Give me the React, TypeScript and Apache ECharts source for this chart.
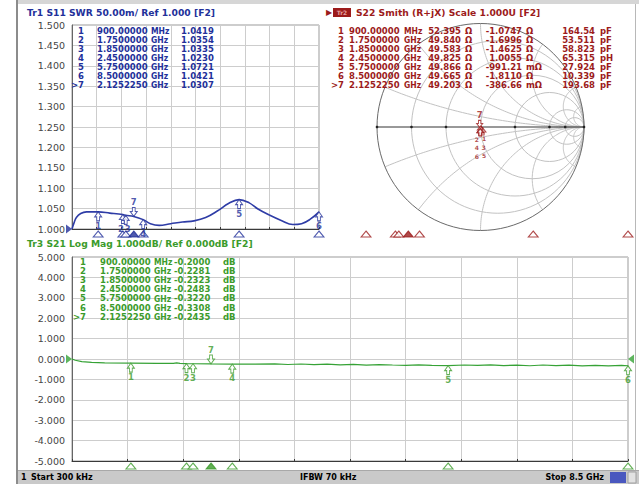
import React, { useEffect, useRef } from 'react';
import * as echarts from 'echarts';

// ---------- data ----------
const freqMin = 0;
const freqMax = 8.5;
const freqStep = 0.85;

const markerIds = ['1', '2', '3', '4', '5', '6', '>7'];
const markerNums = ['1', '2', '3', '4', '5', '6', '7'];
const markerFreqGHz = [0.9, 1.75, 1.85, 2.45, 5.75, 8.5, 2.125225];
const markerFreqText = ['900.00000', '1.7500000', '1.8500000', '2.4500000', '5.7500000', '8.5000000', '2.1252250'];
const markerFreqUnit = ['MHz', 'GHz', 'GHz', 'GHz', 'GHz', 'GHz', 'GHz'];

const s11MarkerSwr = [1.0419, 1.0354, 1.0335, 1.023, 1.0721, 1.0421, 1.0307];
const s11MarkerText = ['1.0419', '1.0354', '1.0335', '1.0230', '1.0721', '1.0421', '1.0307'];

const s21MarkerDb = [-0.2, -0.2281, -0.2323, -0.2483, -0.322, -0.3308, -0.2435];
const s21MarkerText = ['-0.2000', '-0.2281', '-0.2323', '-0.2483', '-0.3220', '-0.3308', '-0.2435'];

const s22MarkerR = [52.395, 49.84, 49.583, 49.825, 49.866, 49.665, 49.203];
const s22MarkerX = [-1.0747, -1.6996, -1.4625, 1.0055, -0.99121, -1.811, -0.38666];
const s22RText = ['52.395', '49.840', '49.583', '49.825', '49.866', '49.665', '49.203'];
const s22XText = ['-1.0747', '-1.6996', '-1.4625', '1.0055', '-991.21', '-1.8110', '-386.66'];
const s22XUnit = ['Ω', 'Ω', 'Ω', 'Ω', 'mΩ', 'Ω', 'mΩ'];
const s22LCText = ['164.54', '53.511', '58.823', '65.315', '27.924', '10.339', '193.68'];
const s22LCUnit = ['pF', 'pF', 'pF', 'pH', 'pF', 'pF', 'pF'];

const s11TraceFreq = [0.0003, 0.07, 0.15, 0.3, 0.5, 0.9, 1.3, 1.75, 1.85, 2.125, 2.45, 2.7, 3.0, 3.4, 3.8, 4.2, 4.6, 5.0, 5.4, 5.75, 6.1, 6.4, 6.8, 7.2, 7.6, 7.9, 8.2, 8.5];
const s11TraceSwr = [1.0, 1.015, 1.028, 1.038, 1.042, 1.0419, 1.039, 1.0354, 1.0335, 1.0307, 1.023, 1.013, 1.009, 1.013, 1.017, 1.02, 1.028, 1.044, 1.063, 1.0721, 1.064, 1.049, 1.034, 1.021, 1.011, 1.013, 1.024, 1.0421];

const s21TraceFreq = [0.0003, 0.05, 0.15, 0.3, 0.5, 0.9, 1.3, 1.55, 1.6, 1.65, 1.75, 1.85, 2.125, 2.45, 2.8, 3.1, 3.3, 3.5, 3.7, 3.9, 4.1, 4.3, 4.5, 4.7, 4.9, 5.1, 5.3, 5.5, 5.75, 6.0, 6.2, 6.4, 6.6, 6.8, 7.0, 7.2, 7.4, 7.6, 7.8, 8.0, 8.2, 8.4, 8.5];
const s21TraceDb = [0.0, -0.06, -0.13, -0.17, -0.19, -0.2, -0.21, -0.215, -0.19, -0.215, -0.2281, -0.2323, -0.2435, -0.2483, -0.25, -0.235, -0.27, -0.245, -0.28, -0.255, -0.29, -0.265, -0.3, -0.275, -0.295, -0.31, -0.285, -0.31, -0.322, -0.295, -0.315, -0.285, -0.32, -0.3, -0.33, -0.295, -0.325, -0.3, -0.335, -0.31, -0.34, -0.315, -0.3308];

const s22TraceRe = [0.0, 0.012, 0.023, 0.015, 0.004, -0.002, -0.003, -0.004, -0.003, -0.002, 0.001, -0.001, -0.003, -0.004];
const s22TraceIm = [0.0, -0.006, -0.01, -0.014, -0.016, -0.017, -0.015, -0.008, 0.004, 0.01, -0.004, -0.01, -0.018, -0.012];

const swrMin = 1.0;
const swrMax = 1.5;
const swrStep = 0.05;
const dbMin = -5;
const dbMax = 5;
const dbStep = 1;
const swrRef = 1.0;
const dbRef = 0.0;

const smithR = [0.2, 0.5, 1, 2, 5, 10];
const smithX = [0.2, 0.5, 1, 2, 5, 10];

const titleS11 = 'Tr1 S11 SWR 50.00m/ Ref 1.000 [F2]';
const titleS22 = 'S22 Smith (R+jX) Scale 1.000U [F2]';
const titleS21 = 'Tr3 S21 Log Mag 1.000dB/ Ref 0.000dB [F2]';
const statusStart = 'Start 300 kHz';
const statusIfbw = 'IFBW 70 kHz';
const statusStop = 'Stop 8.5 GHz';

// ---------- styles ----------
const FONT = '"DejaVu Sans", Verdana, sans-serif';
const BLUE = '#22309a';
const BLUE_TRACE = '#2e3ca6';
const RED = '#9c1b1b';
const GREEN_TEXT = '#3b9b2b';
const GREEN_TRACE = '#36a236';
const GRID = '#cdcdcd';
const AXIS = '#3a3a3a';

const UP_ARROW = 'path://M4,0 L8,5 L5.6,5 L5.6,9 L2.4,9 L2.4,5 L0,5 Z';
const DOWN_ARROW = 'path://M2.4,0 L5.6,0 L5.6,4 L8,4 L4,9 L0,4 L2.4,4 Z';
const RIGHT_TRI = 'path://M0,0 L8,5 L0,10 Z';
const LEFT_TRI = 'path://M8,0 L0,5 L8,10 Z';

// label stacking offsets for the crowded Smith-chart markers (style only)
const SMITH_LABEL_OFFSETS: number[][] = [[1.2, 0], [-3.4, 0], [3.6, 8.5], [-3.4, 11], [3.6, 17], [-3.4, 17], [0, 0]];

function gammaOf(R: number, X: number): [number, number] {
  const r = R / 50;
  const x = X / 50;
  const den = (r + 1) * (r + 1) + x * x;
  return [(r * r + x * x - 1) / den, (2 * x) / den];
}

function txt(x: number, y: number, text: string, fill: string, font: string, align = 'left', scaleX = 1) {
  return {
    type: 'text',
    x,
    y,
    scaleX,
    silent: true,
    z: 50,
    style: {
      text,
      fill,
      font,
      textAlign: align,
      align,
      textVerticalAlign: 'middle',
      verticalAlign: 'middle',
    },
  };
}

function markerSeries(
  name: string,
  xIdx: number,
  yIdx: number,
  pts: [number, number][],
  color: string,
  labelShiftX: number[] = [],
  stacked = false,
) {
  const data = pts.map((p, i) => {
    const active = i === 6;
    const label: any = {
      show: true,
      position: active ? 'top' : 'bottom',
      distance: 0,
      formatter: markerNums[i],
      color,
      fontFamily: FONT,
      fontWeight: 'bold',
      fontSize: 8.5,
      offset: [labelShiftX[i] || 0, 0],
    };
    if (stacked && !active) {
      label.fontSize = 6;
      label.offset = SMITH_LABEL_OFFSETS[i];
    }
    return {
      value: p,
      symbol: active ? DOWN_ARROW : UP_ARROW,
      symbolSize: stacked ? [6, 7] : [7, 9],
      symbolOffset: active ? [0, stacked ? -3.5 : -4.5] : [0, stacked ? 3.5 : 4.5],
      label,
    };
  });
  return {
    name,
    type: 'scatter',
    xAxisIndex: xIdx,
    yAxisIndex: yIdx,
    clip: false,
    itemStyle: { color: '#ffffff', borderColor: color, borderWidth: 1 },
    silent: true,
    z: 20,
    data,
  };
}

function stripSeries(name: string, xIdx: number, yIdx: number, yVal: number, color: string, offsetY: number) {
  return {
    name,
    type: 'scatter',
    xAxisIndex: xIdx,
    yAxisIndex: yIdx,
    clip: false,
    symbol: 'triangle',
    symbolSize: [10, 6],
    symbolOffset: [0, offsetY],
    silent: true,
    z: 20,
    data: markerFreqGHz.map((f, i) => ({
      value: [f, yVal],
      itemStyle: { color: i === 6 ? color : '#ffffff', borderColor: color, borderWidth: 1 },
    })),
  };
}

function smithRender(params: any, api: any) {
  const children: any[] = [];
  const c0 = api.coord([0, 0]);
  const unit = api.size([1, 1]);
  const ux = unit[0];
  const gridStyle = { stroke: '#c2c2c2', fill: 'none', lineWidth: 1 };
  smithR.forEach((r) => {
    const c = api.coord([r / (1 + r), 0]);
    children.push({ type: 'circle', shape: { cx: c[0], cy: c[1], r: ux / (1 + r) }, style: gridStyle });
  });
  const xs = smithX.concat(smithX.map((v) => -v));
  xs.forEach((x) => {
    const cx = 1;
    const cy = 1 / x;
    const rad = 1 / Math.abs(x);
    const aA = Math.atan2(0 - cy, 1 - cx);
    const px = (x * x - 1) / (1 + x * x);
    const py = (2 * x) / (1 + x * x);
    const aP = Math.atan2(py - cy, px - cx);
    const twoPi = Math.PI * 2;
    let d = (((aP - aA) % twoPi) + twoPi) % twoPi;
    const mid = aA + d / 2;
    const mx = cx + rad * Math.cos(mid);
    const my = cy + rad * Math.sin(mid);
    if (mx * mx + my * my > 1) d = d - twoPi;
    const pts: number[][] = [];
    const n = 80;
    for (let k = 0; k <= n; k++) {
      const a = aA + (d * k) / n;
      pts.push(api.coord([cx + rad * Math.cos(a), cy + rad * Math.sin(a)]));
    }
    children.push({ type: 'polyline', shape: { points: pts }, style: gridStyle });
  });
  children.push({ type: 'circle', shape: { cx: c0[0], cy: c0[1], r: ux }, style: { stroke: '#6a6a6a', fill: 'none', lineWidth: 1 } });
  const l = api.coord([-1, 0]);
  const rgt = api.coord([1, 0]);
  children.push({ type: 'line', shape: { x1: l[0], y1: l[1], x2: rgt[0], y2: rgt[1] }, style: { stroke: '#333', lineWidth: 1 } });
  [-1].concat(smithR.map((r) => (r - 1) / (r + 1))).concat([1]).forEach((g) => {
    const p = api.coord([g, 0]);
    children.push({ type: 'circle', shape: { cx: p[0], cy: p[1], r: 1.3 }, style: { fill: '#222' } });
  });
  return { type: 'group', children, silent: true };
}

export default function App() {
  const ref = useRef<HTMLDivElement>(null);

  useEffect(() => {
    if (!ref.current) return;
    const chart = echarts.init(ref.current, undefined, { renderer: 'svg' });

    const fontTitle = `bold 9.2px ${FONT}`;
    const fontTable = `bold 8.5px ${FONT}`;
    const fontStatus = `bold 8px ${FONT}`;
    const unitScale = 0.9;

    const rowY = (top: number, i: number) => top + i * 9.1;

    const graphics: any[] = [];
    graphics.push({ type: 'rect', shape: { x: 17, y: 0, width: 622, height: 4 }, style: { fill: '#d6d6d6' }, silent: true, z: 40 });
    graphics.push({ type: 'rect', shape: { x: 16, y: 0, width: 2, height: 484 }, style: { fill: '#8c8c8c' }, silent: true, z: 40 });
    graphics.push({ type: 'rect', shape: { x: 635, y: 4, width: 1, height: 466 }, style: { fill: '#b8b8b8' }, silent: true, z: 40 });
    graphics.push({ type: 'rect', shape: { x: 18, y: 470, width: 621, height: 14 }, style: { fill: '#c9c9c9' }, silent: true, z: 40 });
    graphics.push({ type: 'rect', shape: { x: 18, y: 470, width: 621, height: 1 }, style: { fill: '#a8a8a8' }, silent: true, z: 41 });
    graphics.push(txt(21, 477.5, '1', '#000', fontStatus));
    graphics.push(txt(31, 477.5, statusStart, '#000', fontStatus));
    graphics.push(txt(300, 477.5, statusIfbw, '#000', fontStatus));
    graphics.push(txt(604, 477.5, statusStop, '#000', fontStatus, 'right'));
    graphics.push({ type: 'rect', shape: { x: 610, y: 472, width: 16, height: 11 }, style: { fill: '#4a58bf' }, silent: true, z: 41 });
    graphics.push({ type: 'rect', shape: { x: 628, y: 472, width: 8, height: 11 }, style: { fill: '#e2e2e2', stroke: '#a0a0a0' }, silent: true, z: 41 });

    graphics.push(txt(27, 12.5, titleS11, BLUE, fontTitle));
    graphics.push(txt(326, 12.5, '▶', RED, `8px ${FONT}`));
    graphics.push({ type: 'rect', shape: { x: 333, y: 8, width: 18, height: 9 }, style: { fill: RED }, silent: true, z: 45 });
    graphics.push(txt(342, 12.5, 'Tr2', '#e6a0a0', `bold 6px ${FONT}`, 'center'));
    graphics.push(txt(356, 12.5, titleS22, RED, fontTitle));
    graphics.push(txt(27, 243.5, titleS21, GREEN_TEXT, fontTitle));

    for (let i = 0; i < 7; i++) {
      const y = rowY(30.5, i);
      graphics.push(txt(84, y, markerIds[i], BLUE, fontTable, 'right'));
      graphics.push(txt(97, y, markerFreqText[i], BLUE, fontTable));
      graphics.push(txt(151, y, markerFreqUnit[i], BLUE, fontTable, 'left', unitScale));
      graphics.push(txt(181, y, s11MarkerText[i], BLUE, fontTable));
    }
    for (let i = 0; i < 7; i++) {
      const y = rowY(30.5, i);
      graphics.push(txt(344, y, markerIds[i], RED, fontTable, 'right'));
      graphics.push(txt(349, y, markerFreqText[i], RED, fontTable));
      graphics.push(txt(404, y, markerFreqUnit[i], RED, fontTable, 'left', unitScale));
      graphics.push(txt(461, y, s22RText[i], RED, fontTable, 'right'));
      graphics.push(txt(465, y, 'Ω', RED, fontTable));
      graphics.push(txt(522, y, s22XText[i], RED, fontTable, 'right'));
      graphics.push(txt(526, y, s22XUnit[i], RED, fontTable));
      graphics.push(txt(595, y, s22LCText[i], RED, fontTable, 'right'));
      graphics.push(txt(600, y, s22LCUnit[i], RED, fontTable));
    }
    for (let i = 0; i < 7; i++) {
      const y = rowY(262, i);
      graphics.push(txt(86, y, markerIds[i], GREEN_TEXT, fontTable, 'right'));
      graphics.push(txt(100, y, markerFreqText[i], GREEN_TEXT, fontTable));
      graphics.push(txt(154, y, markerFreqUnit[i], GREEN_TEXT, fontTable, 'left', unitScale));
      graphics.push(txt(174, y, s21MarkerText[i], GREEN_TEXT, fontTable));
      graphics.push(txt(223, y, 'dB', GREEN_TEXT, fontTable));
    }

    const freqAxis = (gridIndex: number) => ({
      gridIndex,
      type: 'value',
      min: freqMin,
      max: freqMax,
      interval: freqStep,
      axisLabel: { show: false },
      axisLine: { show: true, onZero: false, lineStyle: { color: AXIS, width: 1 } },
      axisTick: { show: true, inside: true, length: 2, lineStyle: { color: AXIS } },
      splitLine: { show: true, lineStyle: { color: GRID, width: 1 } },
    });
    const valAxis = (gridIndex: number, min: number, max: number, interval: number) => ({
      gridIndex,
      type: 'value',
      min,
      max,
      interval,
      axisLabel: {
        show: true,
        margin: 7,
        color: '#444',
        fontFamily: FONT,
        fontSize: 9.5,
        formatter: (v: number) => v.toFixed(3),
      },
      axisLine: { show: true, onZero: false, lineStyle: { color: '#666', width: 1 } },
      axisTick: { show: false },
      splitLine: { show: true, lineStyle: { color: GRID, width: 1 } },
    });

    const s11Pts = s11TraceFreq.map((f, i) => [f, s11TraceSwr[i]]);
    const s21Pts = s21TraceFreq.map((f, i) => [f, s21TraceDb[i]]);
    const s22Pts = s22TraceRe.map((g, i) => [g, s22TraceIm[i]]);
    const s11Mk = markerFreqGHz.map((f, i) => [f, s11MarkerSwr[i]] as [number, number]);
    const s21Mk = markerFreqGHz.map((f, i) => [f, s21MarkerDb[i]] as [number, number]);
    const s22Mk = s22MarkerR.map((R, i) => gammaOf(R, s22MarkerX[i]));

    const option: any = {
      animation: false,
      backgroundColor: '#ffffff',
      textStyle: { fontFamily: FONT },
      grid: [
        { left: 72, top: 25, width: 247, height: 204, show: true, borderColor: '#9a9a9a', borderWidth: 1, backgroundColor: 'transparent' },
        { left: 377, top: 23.5, width: 207, height: 207 },
        { left: 335, top: 230, width: 293, height: 4 },
        { left: 72, top: 257, width: 556, height: 204, show: true, borderColor: '#9a9a9a', borderWidth: 1, backgroundColor: 'transparent' },
      ],
      xAxis: [
        freqAxis(0),
        { gridIndex: 1, type: 'value', min: -1, max: 1, show: false },
        { gridIndex: 2, type: 'value', min: freqMin, max: freqMax, show: false },
        freqAxis(3),
      ],
      yAxis: [
        valAxis(0, swrMin, swrMax, swrStep),
        { gridIndex: 1, type: 'value', min: -1, max: 1, show: false },
        { gridIndex: 2, type: 'value', min: 0, max: 1, show: false },
        valAxis(3, dbMin, dbMax, dbStep),
      ],
      graphic: { elements: graphics },
      series: [
        {
          name: 'S11 SWR',
          type: 'line',
          xAxisIndex: 0,
          yAxisIndex: 0,
          data: s11Pts,
          smooth: 0.4,
          showSymbol: false,
          lineStyle: { color: BLUE_TRACE, width: 1.6 },
          z: 10,
          silent: true,
        },
        markerSeries('S11 markers', 0, 0, s11Mk, BLUE, [0, -1.9, 1.9, 0, 0, 0, 0]),
        stripSeries('S11 strip', 0, 0, swrMin, BLUE, 5),
        {
          name: 'S11 ref',
          type: 'scatter',
          xAxisIndex: 0,
          yAxisIndex: 0,
          clip: false,
          symbol: RIGHT_TRI,
          symbolSize: [6, 9],
          symbolOffset: [-3, 0],
          itemStyle: { color: BLUE },
          data: [[freqMin, swrRef]],
          silent: true,
          z: 21,
        },
        {
          name: 'Smith grid',
          type: 'custom',
          xAxisIndex: 1,
          yAxisIndex: 1,
          renderItem: smithRender,
          data: [[0, 0]],
          silent: true,
          z: 1,
        },
        {
          name: 'S22',
          type: 'line',
          xAxisIndex: 1,
          yAxisIndex: 1,
          data: s22Pts,
          showSymbol: false,
          lineStyle: { color: RED, width: 2 },
          silent: true,
          z: 10,
        },
        markerSeries('S22 markers', 1, 1, s22Mk, RED, [], true),
        stripSeries('S22 strip', 2, 2, 0, RED, 0),
        {
          name: 'S21',
          type: 'line',
          xAxisIndex: 3,
          yAxisIndex: 3,
          data: s21Pts,
          showSymbol: false,
          lineStyle: { color: GREEN_TRACE, width: 1.2 },
          silent: true,
          z: 10,
        },
        markerSeries('S21 markers', 3, 3, s21Mk, GREEN_TEXT),
        stripSeries('S21 strip', 3, 3, dbMin, GREEN_TEXT, 5),
        {
          name: 'S21 ref',
          type: 'scatter',
          xAxisIndex: 3,
          yAxisIndex: 3,
          clip: false,
          silent: true,
          z: 21,
          itemStyle: { color: GREEN_TRACE },
          data: [
            { value: [freqMin, dbRef], symbol: RIGHT_TRI, symbolOffset: [-3, 0] },
            { value: [freqMax, dbRef], symbol: LEFT_TRI, symbolOffset: [3, 0] },
          ],
          symbolSize: [6, 9],
        },
      ],
    };

    chart.setOption(option);
    return () => {
      chart.dispose();
    };
  }, []);

  return (
    <div
      ref={ref}
      style={{ position: 'fixed', left: 0, top: 0, width: 639, height: 484, background: '#fff' }}
    />
  );
}
